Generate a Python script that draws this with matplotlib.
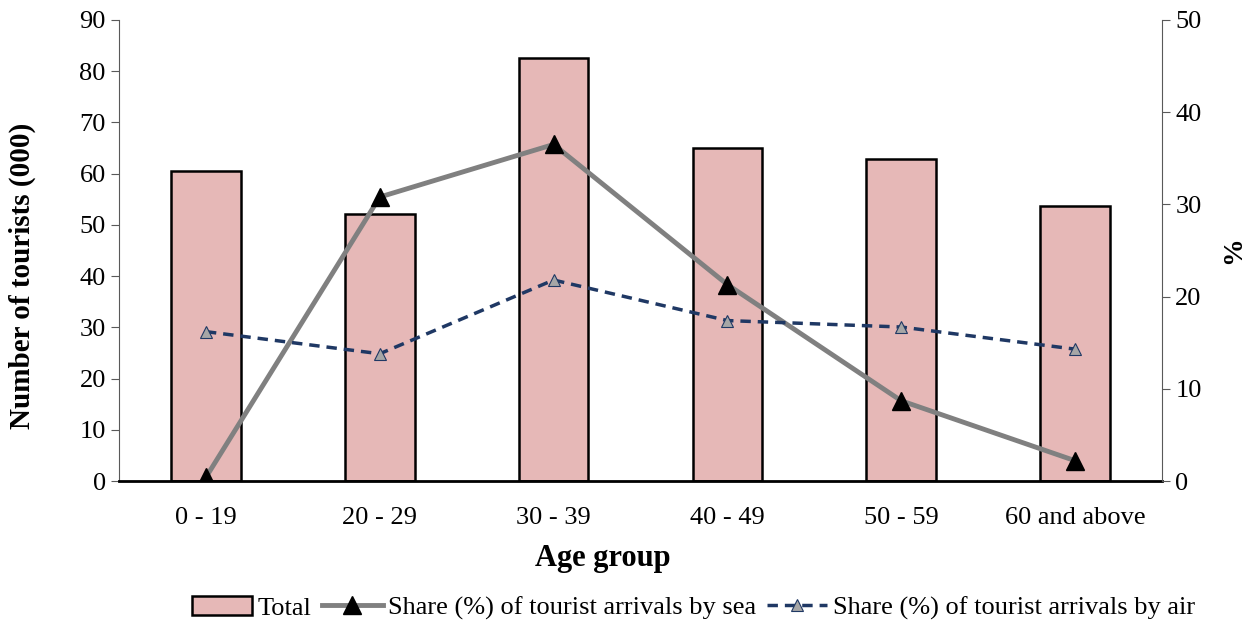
import matplotlib.pyplot as plt
import numpy as np

plt.rcParams["font.family"] = ["Liberation Serif", "DejaVu Serif"]

groups = ["0 - 19", "20 - 29", "30 - 39", "40 - 49", "50 - 59", "60 and above"]
total = [60.5, 52.1, 82.6, 65.0, 62.9, 53.7]
sea_share = [0.4, 30.8, 36.5, 21.3, 8.7, 2.2]
air_share = [16.2, 13.8, 21.8, 17.4, 16.7, 14.3]

x = np.arange(len(groups))

fig = plt.figure(figsize=(12.58, 6.27), dpi=100)
ax = fig.add_axes([119 / 1258, 1 - 481 / 627, 1043 / 1258, 461 / 627])
ax2 = ax.twinx()

bars = ax.bar(x, total, width=0.4, color="#e6b8b7", edgecolor="black",
              linewidth=1.8, label="Total", zorder=2)
sea, = ax2.plot(x, sea_share, color="#808080", linewidth=3.5, marker="^",
                markersize=13, markerfacecolor="black", markeredgecolor="black",
                label="Share (%) of tourist arrivals by sea", zorder=3)
air, = ax2.plot(x, air_share, color="#1f3864", linewidth=2.5, linestyle=(0, (3, 2)),
                marker="^", markersize=9, markerfacecolor="#a6a6a6",
                markeredgecolor="#1f3864", markeredgewidth=0.8,
                label="Share (%) of tourist arrivals by air", zorder=3)

ax.set_xlim(-0.5, len(groups) - 0.5)
ax.set_ylim(0, 90)
ax.set_yticks(np.arange(0, 91, 10))
ax2.set_ylim(0, 50)
ax2.set_yticks(np.arange(0, 51, 10))
ax.set_xticks(x)
ax.set_xticklabels(groups)

for a in (ax, ax2):
    a.spines["top"].set_visible(False)
    a.tick_params(axis="y", direction="out", length=6, width=0.8,
                  labelsize=19, colors="#595959", labelcolor="black")
ax.tick_params(axis="x", length=0, labelsize=19, pad=19)
ax.spines["bottom"].set_linewidth(2)
ax2.spines["bottom"].set_visible(False)
for a in (ax, ax2):
    a.spines["left"].set_color("#595959")
    a.spines["right"].set_color("#595959")
ax.spines["right"].set_visible(False)
ax2.spines["left"].set_visible(False)

ax.set_ylabel("Number of tourists (000)", fontsize=21, fontweight="bold")
ax.yaxis.set_label_coords(-0.08, 0.445)
ax2.set_ylabel("%", fontsize=20, fontweight="bold", labelpad=14)
ax.set_xlabel("Age group", fontsize=22, fontweight="bold")
ax.xaxis.set_label_coords(0.464, -0.137)

ax.set_zorder(ax2.get_zorder() - 1)
ax.patch.set_visible(False)

fig.legend([bars, sea, air],
           [bars.get_label(), sea.get_label(), air.get_label()],
           loc="center", bbox_to_anchor=(0.551, 1 - 608 / 627), ncol=3,
           frameon=False, fontsize=19, handlelength=2.3, handletextpad=0.2,
           columnspacing=0.4)

fig.savefig("out.png", dpi=100)
